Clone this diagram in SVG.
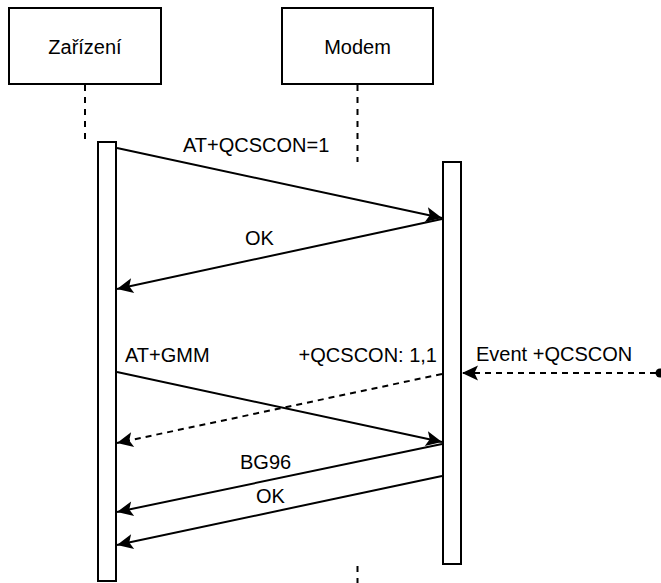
<svg xmlns="http://www.w3.org/2000/svg" width="661" height="583" viewBox="0 0 661 583">
<style>
.box{fill:#fff;stroke:#000;stroke-width:2}
.life{stroke:#000;stroke-width:2;stroke-dasharray:6 6;fill:none}
.msg{stroke:#000;stroke-width:2;fill:none;marker-end:url(#arr)}
.dash{stroke-dasharray:6 5}
text{font-family:"Liberation Sans",Arial,sans-serif;font-size:20px;fill:#000}
.c{text-anchor:middle}
.r{text-anchor:end}
</style>
<defs>
<marker id="arr" markerUnits="userSpaceOnUse" viewBox="-17 -8 18 16" refX="0" refY="0" markerWidth="18" markerHeight="16" orient="auto">
<path d="M0,0 L-16,-7.5 L-12.5,0 L-16,7.5 Z" fill="#000"/>
</marker>
</defs>
<g id="lifelines">
<line class="life" x1="85" y1="85" x2="85" y2="142"/>
<line class="life" x1="357.5" y1="85" x2="357.5" y2="162"/>
<line class="life" x1="357.5" y1="566" x2="357.5" y2="583"/>
</g>
<g id="zarizeni">
<rect class="box" x="9" y="8" width="152" height="76"/>
<text class="c" x="85" y="54">Zařízení</text>
</g>
<g id="modem">
<rect class="box" x="282" y="8" width="151" height="76"/>
<text class="c" x="357.5" y="54">Modem</text>
</g>
<g id="zarizeni-activation">
<rect class="box" x="98" y="142" width="18" height="439"/>
</g>
<g id="modem-activation">
<rect class="box" x="443" y="162" width="18" height="402"/>
</g>
<g id="connectors">
<line class="msg" x1="117" y1="148" x2="442" y2="218"/>
<line class="msg" x1="442" y1="219" x2="117" y2="289"/>
<line class="msg" x1="117" y1="372" x2="442" y2="442"/>
<line class="msg dash" x1="442" y1="374" x2="117" y2="443"/>
<line class="msg dash" x1="656" y1="373" x2="462" y2="373"/>
<circle cx="660" cy="373" r="4.5" fill="#000"/>
<line class="msg" x1="442" y1="444" x2="117" y2="512"/>
<line class="msg" x1="442" y1="476" x2="117" y2="545"/>
</g>
<g id="labels">
<text x="183" y="152">AT+QCSCON=1</text>
<text x="245" y="245">OK</text>
<text x="125" y="362">AT+GMM</text>
<text class="r" x="437" y="362">+QCSCON: 1,1</text>
<text x="476" y="361">Event +QCSCON</text>
<text x="240" y="469">BG96</text>
<text x="256" y="503">OK</text>
</g>
</svg>
